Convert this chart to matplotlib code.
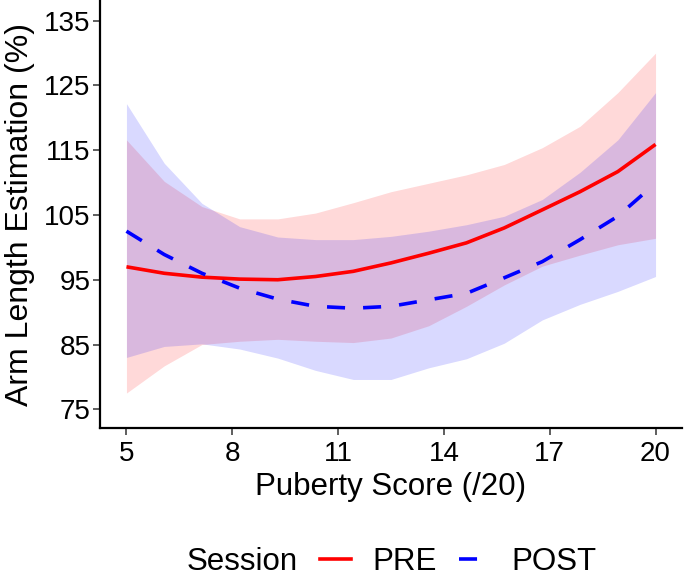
import matplotlib
matplotlib.use("Agg")
import matplotlib.pyplot as plt
from matplotlib.lines import Line2D

plt.rcParams['font.family'] = ['Liberation Sans', 'DejaVu Sans']
plt.rcParams['lines.scale_dashes'] = False

# Data
puberty = [5.0, 6.07, 7.14, 8.21, 9.29, 10.36, 11.43, 12.5, 13.57, 14.64, 15.71, 16.79, 17.86, 18.93, 20.0]
pre_fit = [97.0, 96.0, 95.4, 95.1, 95.0, 95.5, 96.3, 97.6, 99.1, 100.7, 103.0, 105.8, 108.6, 111.7, 115.9]
pre_upper = [116.6, 110.2, 106.3, 104.4, 104.4, 105.3, 106.9, 108.6, 109.9, 111.2, 112.8, 115.4, 118.7, 123.9, 130.0]
pre_lower = [77.5, 81.7, 85.0, 85.5, 85.8, 85.5, 85.3, 86.0, 87.9, 90.9, 94.2, 97.1, 98.8, 100.4, 101.4]
post_fit = [102.5, 98.9, 96.0, 93.7, 92.0, 90.9, 90.6, 90.9, 91.9, 92.9, 95.3, 97.8, 101.2, 104.8, 109.9]
post_upper = [122.2, 113.0, 106.8, 103.2, 101.6, 101.2, 101.2, 101.7, 102.5, 103.5, 104.8, 107.4, 111.6, 116.6, 123.9]
post_lower = [83.0, 84.7, 85.1, 84.3, 82.9, 81.0, 79.6, 79.6, 81.4, 82.8, 85.2, 88.8, 91.2, 93.2, 95.5]

x_ticks = [5, 8, 11, 14, 17, 20]
y_ticks = [75, 85, 95, 105, 115, 125, 135]
sessions = ["PRE", "POST"]

RED = "#FF0000"
BLUE = "#0000FF"
DASH = (0, (13, 13))

fig = plt.figure(figsize=(6.85, 5.77), dpi=100)
ax = fig.add_axes([100/685, 148.7/577, 582/685, 428.3/577])

ax.fill_between(puberty, pre_lower, pre_upper, color=RED, alpha=0.15, linewidth=0)
ax.plot(puberty, pre_fit, color=RED, linewidth=2.6, solid_capstyle='butt')
ax.fill_between(puberty, post_lower, post_upper, color=BLUE, alpha=0.15, linewidth=0)
ax.plot(puberty, post_fit, color=BLUE, linewidth=2.6, linestyle=DASH, dash_capstyle='butt')

ax.set_xlim(4.25, 20.75)
ax.set_ylim(72.06, 138.2)
ax.set_xticks(x_ticks)
ax.set_yticks(y_ticks)
ax.tick_params(axis='both', labelsize=20, length=5, width=1.1, color='#333333', labelcolor='black')
ax.tick_params(axis='y', pad=2)
ax.tick_params(axis='x', pad=4)
for s in ['top', 'right']:
    ax.spines[s].set_visible(False)
for s in ['left', 'bottom']:
    ax.spines[s].set_linewidth(1.6)
    ax.spines[s].set_color('black')

ax.set_xlabel("Puberty Score (/20)", fontsize=22.5, labelpad=4)
ax.set_ylabel("Arm Length Estimation (%)", fontsize=23, labelpad=6)

handles = [Line2D([], [], color=RED, linewidth=2.6),
           Line2D([], [], color=BLUE, linewidth=2.6, linestyle=(0, (13, 30)))]
fig.text(187/685, 15/577, "Session", fontsize=22.5, ha='left', va='center')
fig.legend(handles, sessions, loc='center left', bbox_to_anchor=(320/685, 15/577),
           ncol=2, frameon=False, fontsize=22.5, handlelength=1.0, handletextpad=0.68,
           columnspacing=0.7, borderpad=0, borderaxespad=0)

fig.savefig("out.png", dpi=100)
